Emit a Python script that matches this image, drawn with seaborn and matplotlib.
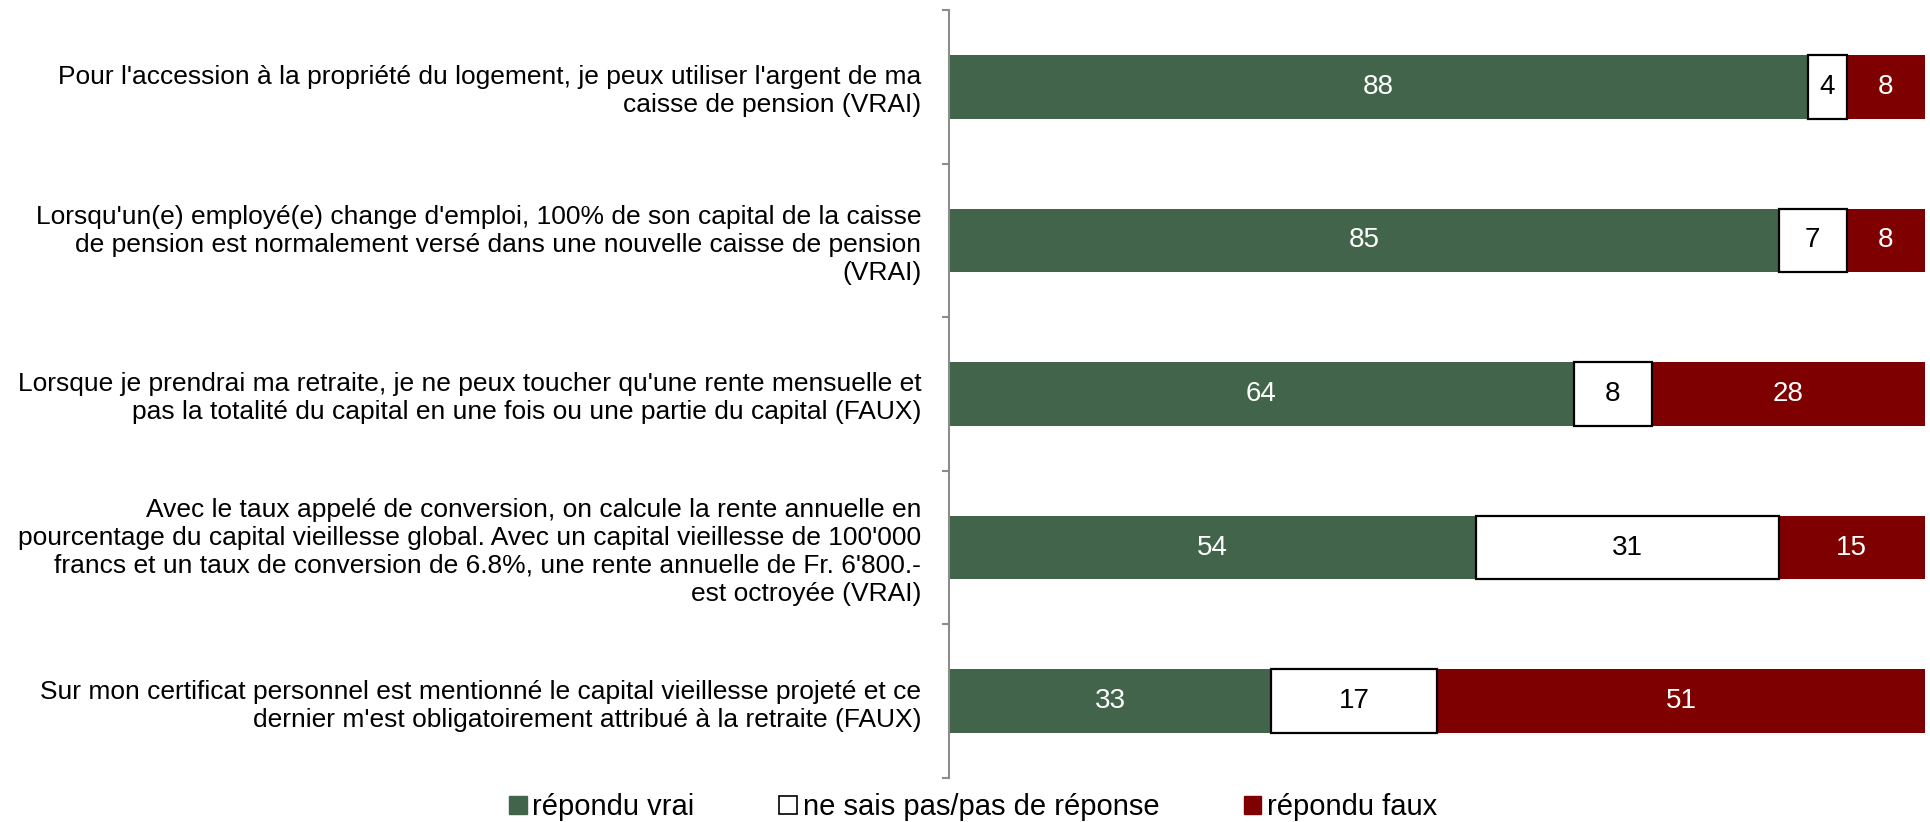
import numpy as np
import pandas as pd
import matplotlib
matplotlib.use("Agg")
import matplotlib.pyplot as plt
from matplotlib.patches import Patch
import seaborn as sns

questions = [
    "Pour l'accession à la propriété du logement, je peux utiliser l'argent de ma\ncaisse de pension (VRAI)",
    "Lorsqu'un(e) employé(e) change d'emploi, 100% de son capital de la caisse\nde pension est normalement versé dans une nouvelle caisse de pension\n(VRAI)",
    "Lorsque je prendrai ma retraite, je ne peux toucher qu'une rente mensuelle et\npas la totalité du capital en une fois ou une partie du capital (FAUX)",
    "Avec le taux appelé de conversion, on calcule la rente annuelle en\npourcentage du capital vieillesse global. Avec un capital vieillesse de 100'000\nfrancs et un taux de conversion de 6.8%, une rente annuelle de Fr. 6'800.-\nest octroyée (VRAI)",
    "Sur mon certificat personnel est mentionné le capital vieillesse projeté et ce\ndernier m'est obligatoirement attribué à la retraite (FAUX)",
]
vrai = [88, 85, 64, 54, 33]
nsp = [4, 7, 8, 31, 17]
faux = [8, 8, 28, 15, 51]
legend_labels = ["répondu vrai", "ne sais pas/pas de réponse", "répondu faux"]

GREEN = "#41644A"
RED = "#7F0000"

sns.set_style("white")
plt.rcParams['font.family'] = ['Liberation Sans', 'DejaVu Sans']
plt.rcParams['text.color'] = 'black'
plt.rcParams['ytick.color'] = 'black'

df = pd.DataFrame({'question': questions, 'vrai': vrai, 'nsp': nsp, 'faux': faux})
df['end_nsp'] = df['vrai'] + df['nsp']
df['end_faux'] = df['end_nsp'] + df['faux']

fig = plt.figure(figsize=(19.31, 8.22), dpi=100)
ax = fig.add_axes([949 / 1931, 44 / 822, (1925 - 949) / 1931, 768 / 822])

# draw cumulative layers, then move each segment to its own span
bw = 0.415
sns.barplot(data=df, y='question', x='end_faux', color=RED, saturation=1,
            width=bw, errorbar=None, orient='h', linewidth=0, ax=ax)
sns.barplot(data=df, y='question', x='end_nsp', color='white', saturation=1,
            width=bw, errorbar=None, orient='h', edgecolor='black', linewidth=1.6, ax=ax)
sns.barplot(data=df, y='question', x='vrai', color=GREEN, saturation=1,
            width=bw, errorbar=None, orient='h', linewidth=0, ax=ax)

n = len(df)
for i, p in enumerate(ax.patches[:n]):
    p.set_x(df['end_nsp'][i])
    p.set_width(df['faux'][i])
for i, p in enumerate(ax.patches[n:2 * n]):
    p.set_x(df['vrai'][i])
    p.set_width(df['nsp'][i])
    p.set_zorder(3)

# segment labels
for i in range(n):
    ax.text(df['vrai'][i] / 2, i, str(df['vrai'][i]), ha='center', va='center',
            color='white', fontsize=20, zorder=5)
    ax.text(df['vrai'][i] + df['nsp'][i] / 2, i, str(df['nsp'][i]), ha='center', va='center',
            color='black', fontsize=20, zorder=5)
    ax.text(min(df['end_nsp'][i] + df['faux'][i] / 2, (df['end_nsp'][i] + 100) / 2), i,
            str(df['faux'][i]), ha='center', va='center', color='white', fontsize=20, zorder=5)

ax.set_xlim(0, 100)
ax.set_ylim(n - 0.5, -0.5)
ax.set_xlabel('')
ax.set_ylabel('')
ax.xaxis.set_visible(False)
for s in ['top', 'right', 'bottom']:
    ax.spines[s].set_visible(False)
ax.spines['left'].set_color('#8C8C8C')
ax.spines['left'].set_linewidth(1.5)

ax.set_yticks(np.arange(-0.5, n, 1), minor=True)
ax.tick_params(axis='y', which='major', length=0, pad=20, labelsize=19, labelcolor='black')
ax.tick_params(axis='y', which='minor', left=True, length=5, width=1.5,
               color='#8C8C8C', direction='out')

handles = [Patch(facecolor=GREEN, edgecolor=GREEN),
           Patch(facecolor='white', edgecolor='black', linewidth=1.2),
           Patch(facecolor=RED, edgecolor=RED)]
fig.legend(handles, legend_labels, loc='center', bbox_to_anchor=(0.504, 0.018), ncol=3,
           frameon=False, fontsize=21, handlelength=0.6, handleheight=0.6,
           handletextpad=0.2, columnspacing=2.9, borderpad=0)

fig.savefig("out.png", dpi=100)
